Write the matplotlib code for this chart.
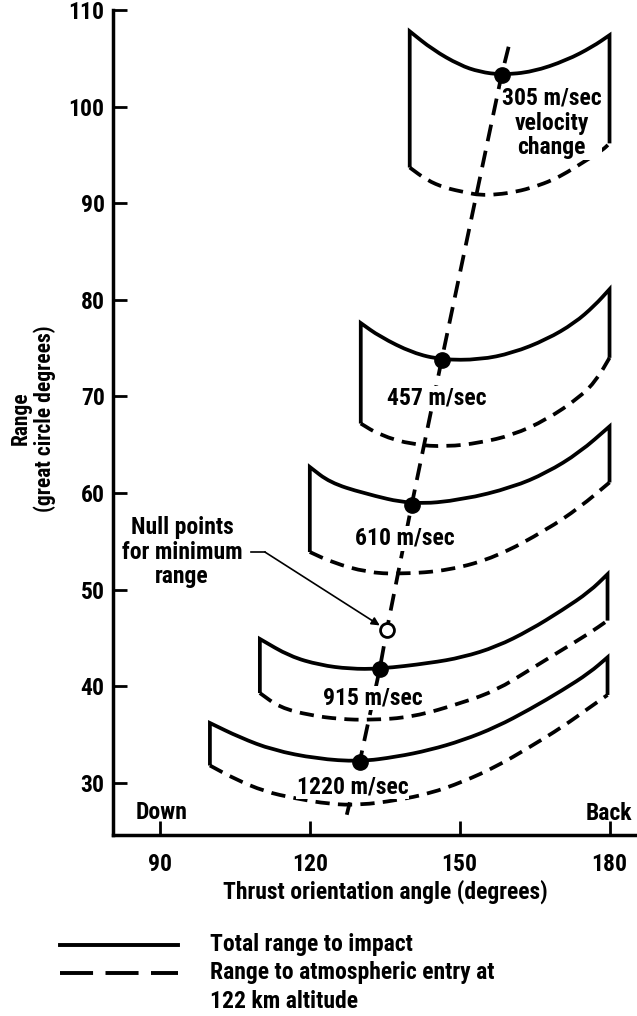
import matplotlib
matplotlib.use("Agg")
import matplotlib.pyplot as plt
from matplotlib.lines import Line2D
from matplotlib.path import Path
from matplotlib.patches import PathPatch

# --- values (thrust angle in deg, range in great circle deg) ---
total_305_x = [140, 144.6, 150, 154, 158.4, 164.6, 171.4, 176.6, 180]
total_305_y = [107.8, 105.9, 104.3, 103.6, 103.3, 103.6, 104.8, 106.2, 107.4]
entry_305_x = [140, 143.4, 147, 151.4, 154, 157.5, 161.4, 165, 168.6, 171.5, 174.6, 178.6, 180]
entry_305_y = [93.7, 92.4, 91.6, 91.1, 90.85, 90.9, 91.2, 91.7, 92.4, 93.2, 94.2, 95.5, 96.2]

total_457_x = [130.2, 134, 140.6, 146.4, 154, 160.6, 167.4, 173, 177, 180]
total_457_y = [77.6, 76.2, 74.5, 73.8, 73.8, 74.5, 75.9, 77.6, 79.4, 81.1]
entry_457_x = [130.2, 134, 140.6, 147.4, 154, 160.6, 167.4, 174, 177.4, 180]
entry_457_y = [67.2, 66.0, 65.0, 64.8, 65.2, 66.0, 67.6, 69.9, 71.7, 74.0]

total_610_x = [120, 124, 130.6, 140.4, 150.6, 160.6, 167.4, 174, 180]
total_610_y = [62.7, 61.1, 60.0, 58.8, 59.3, 60.6, 62.1, 64.2, 66.9]
entry_610_x = [120, 124.6, 131.4, 138, 148, 157.4, 167.4, 174, 180]
entry_610_y = [53.9, 52.8, 51.8, 51.6, 52.0, 53.4, 56.2, 58.5, 61.1]

total_915_x = [110, 116, 122, 128, 134, 144, 150.6, 157.4, 164, 170.6, 176, 179.6]
total_915_y = [44.9, 43.1, 42.2, 41.8, 41.8, 42.4, 43.0, 44.1, 45.8, 47.9, 49.8, 51.6]
entry_915_x = [110, 114, 120, 126, 132, 140.6, 150.6, 157.4, 164, 170.6, 176, 179.6]
entry_915_y = [39.3, 37.8, 37.0, 36.6, 36.5, 36.8, 38.3, 39.6, 41.7, 43.8, 45.5, 46.8]

total_1220_x = [100, 106, 112.6, 121.4, 130, 137.4, 144, 150.6, 157.4, 164, 170.6, 176, 179.6]
total_1220_y = [36.2, 34.7, 33.4, 32.5, 32.2, 32.7, 33.4, 34.4, 35.8, 37.6, 39.6, 41.4, 43.0]
entry_1220_x = [100, 105, 111, 117, 124, 130, 137.4, 144, 150.6, 157.4, 164, 170.6, 176, 179.6]
entry_1220_y = [31.8, 30.4, 29.1, 28.4, 27.8, 27.7, 28.2, 28.9, 30.1, 31.7, 33.7, 35.8, 37.8, 39.1]

# minimum-range points and the locus through them
min_x = [158.4, 146.4, 140.4, 134.0, 130.0]
min_y = [103.3, 73.8, 58.8, 41.8, 32.2]
null_x = [135.4]
null_y = [45.8]
locus_x = [159.8, 158.4, 146.4, 140.4, 135.4, 134.0, 130.0, 127.4]
locus_y = [106.2, 103.3, 73.8, 58.8, 45.8, 41.8, 32.2, 26.7]

band_labels = ["305 m/sec\nvelocity\nchange", "457 m/sec", "610 m/sec", "915 m/sec", "1220 m/sec"]
label_x = [168.4, 145.4, 139.0, 132.6, 128.6]
label_y = [98.3, 69.8, 55.3, 38.8, 29.6]

x_ticks = [90, 120, 150, 180]
y_ticks = [30, 40, 50, 60, 70, 80, 90, 100, 110]

plt.rcParams['font.family'] = ['DejaVu Sans Condensed', 'Liberation Sans Narrow', 'Roboto Condensed',
                               'Noto Sans', 'DejaVu Sans']
plt.rcParams['font.stretch'] = 'condensed'
plt.rcParams['font.weight'] = 'bold'
plt.rcParams['axes.labelweight'] = 'bold'
plt.rcParams['font.size'] = 17

LW = 2.7


def smooth_path(xs, ys, start=None, end=None):
    # quadratic bezier through the midpoints of the read points, sharp corners at the ends
    pts = list(zip(xs, ys))
    mid = lambda a, b: ((a[0] + b[0]) / 2, (a[1] + b[1]) / 2)
    verts, codes = [], []
    if start is not None:
        verts += [start, pts[0]]
        codes += [Path.MOVETO, Path.LINETO]
    else:
        verts.append(pts[0])
        codes.append(Path.MOVETO)
    verts.append(mid(pts[0], pts[1]))
    codes.append(Path.LINETO)
    for i in range(1, len(pts) - 1):
        verts += [pts[i], mid(pts[i], pts[i + 1])]
        codes += [Path.CURVE3, Path.CURVE3]
    verts.append(pts[-1])
    codes.append(Path.LINETO)
    if end is not None:
        verts.append(end)
        codes.append(Path.LINETO)
    return Path(verts, codes)


fig = plt.figure(figsize=(6.37, 10.16), dpi=100)
ax = fig.add_axes([0.1774, 0.1781, 0.8226, 0.8120])

totals = [(total_305_x, total_305_y), (total_457_x, total_457_y), (total_610_x, total_610_y),
          (total_915_x, total_915_y), (total_1220_x, total_1220_y)]
entries = [(entry_305_x, entry_305_y), (entry_457_x, entry_457_y), (entry_610_x, entry_610_y),
           (entry_915_x, entry_915_y), (entry_1220_x, entry_1220_y)]

for (tx, ty), (ex, ey) in zip(totals, entries):
    # solid: left side, total range curve, right side
    solid = smooth_path(tx, ty, start=(tx[0], ey[0]), end=(tx[-1], ey[-1]))
    ax.add_patch(PathPatch(solid, fill=False, lw=LW, ec='black', joinstyle='miter'))
    dashed = smooth_path(ex, ey)
    ax.add_patch(PathPatch(dashed, fill=False, lw=LW, ec='black', ls=(0, (3.8, 2.2))))

ax.plot(locus_x, locus_y, color='black', lw=LW, dashes=(4.5, 2.6))
ax.plot(min_x, min_y, 'o', color='black', ms=11, zorder=5)
ax.plot(null_x, null_y, 'o', mfc='white', mec='black', ms=10, mew=2, zorder=5)

for txt, lx, ly in zip(band_labels, label_x, label_y):
    ax.text(lx, ly, txt, ha='center', va='center', linespacing=1.1,
            bbox=dict(fc='white', ec='none', pad=0.5), zorder=4)

ax.text(94.4, 53.9, "Null points\nfor minimum\nrange", ha='center', va='center', linespacing=1.1)
ax.plot([108.2, 111.0], [53.9, 53.9], color='black', lw=1.2)
ax.annotate('', xy=(134.0, 46.3), xytext=(111.0, 53.9),
            arrowprops=dict(arrowstyle='-|>', lw=1.2, color='black', mutation_scale=12,
                            shrinkA=0, shrinkB=0))

ax.text(90.4, 26.9, "Down", ha='center', va='center')
ax.text(179.8, 26.8, "Back", ha='center', va='center')

ax.set_xlim(80.6, 185.5)
ax.set_ylim(24.6, 110)
ax.set_xticks(x_ticks)
ax.set_yticks(y_ticks)
ax.spines['top'].set_visible(False)
ax.spines['right'].set_visible(False)
ax.spines['left'].set_linewidth(2.5)
ax.spines['bottom'].set_linewidth(2.5)
ax.tick_params(direction='in', length=10, width=2, labelsize=17)
ax.tick_params(axis='x', pad=13)
ax.tick_params(axis='y', pad=6)

ax.set_xlabel("Thrust orientation angle (degrees)", va='center')
ax.xaxis.set_label_coords(0.519, -0.069)
ax.set_ylabel("Range\n(great circle degrees)", va='center', ha='center', linespacing=1.1,
              fontsize=15.5)
ax.yaxis.set_label_coords(-0.153, 0.505)

# legend below the axes
fig.add_artist(Line2D([60 / 637, 178 / 637], [1 - 945 / 1016] * 2, color='black', lw=2.8))
fig.add_artist(Line2D([60 / 637, 178 / 637], [1 - 973 / 1016] * 2, color='black', lw=2.8,
                      dashes=(8.5, 3.2)))
fig.text(210 / 637, 1 - 945 / 1016, "Total range to impact", va='center')
fig.text(210 / 637, 1 - 973 / 1016, "Range to atmospheric entry at", va='center')
fig.text(210 / 637, 1 - 1001 / 1016, "122 km altitude", va='center')

fig.savefig("out.png", dpi=100)
plt.close(fig)
